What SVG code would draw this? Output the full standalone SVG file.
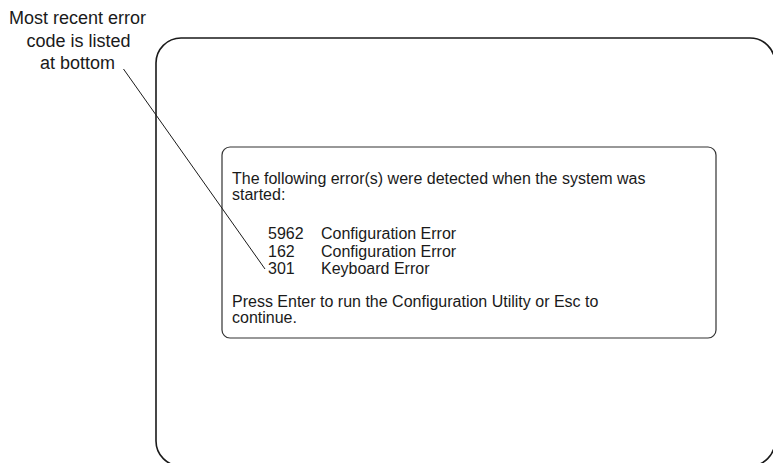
<svg xmlns="http://www.w3.org/2000/svg" width="773" height="463" viewBox="0 0 773 463">
<style>
.frame{fill:none;stroke:#1a1a1a;stroke-width:1.6}
.panel{fill:#fff;stroke:#333;stroke-width:1.2}
.lead{fill:none;stroke:#1a1a1a;stroke-width:1}
.t{font-family:"Liberation Sans",Arial,sans-serif;font-size:16px;fill:#1a1a1a}
.lbl{font-family:"Liberation Sans",Arial,sans-serif;font-size:18px;fill:#1a1a1a;text-anchor:middle}
</style>
<rect width="773" height="463" fill="#fff"/>
<g id="screen">
<rect class="frame" x="156" y="38" width="619" height="428" rx="25" ry="25"/>
</g>
<g id="error-panel">
<rect class="panel" x="222" y="147" width="494" height="191" rx="8" ry="8"/>
<text class="t" x="232" y="183.7">The following error(s) were detected when the system was</text>
<text class="t" x="232" y="200">started:</text>
<text class="t" x="268" y="239">5962</text>
<text class="t" x="321" y="239">Configuration Error</text>
<text class="t" x="268" y="256.5">162</text>
<text class="t" x="321" y="256.5">Configuration Error</text>
<text class="t" x="268" y="274">301</text>
<text class="t" x="321" y="274">Keyboard Error</text>
<text class="t" x="232" y="306.7">Press Enter to run the Configuration Utility or Esc to</text>
<text class="t" x="232" y="323">continue.</text>
</g>
<g id="callout">
<text class="lbl" x="77.5" y="24">Most recent error</text>
<text class="lbl" x="78.5" y="46.5">code is listed</text>
<text class="lbl" x="77.5" y="69">at bottom</text>
</g>
<g id="connectors">
<line class="lead" x1="123.5" y1="69" x2="265" y2="269"/>
</g>
</svg>
